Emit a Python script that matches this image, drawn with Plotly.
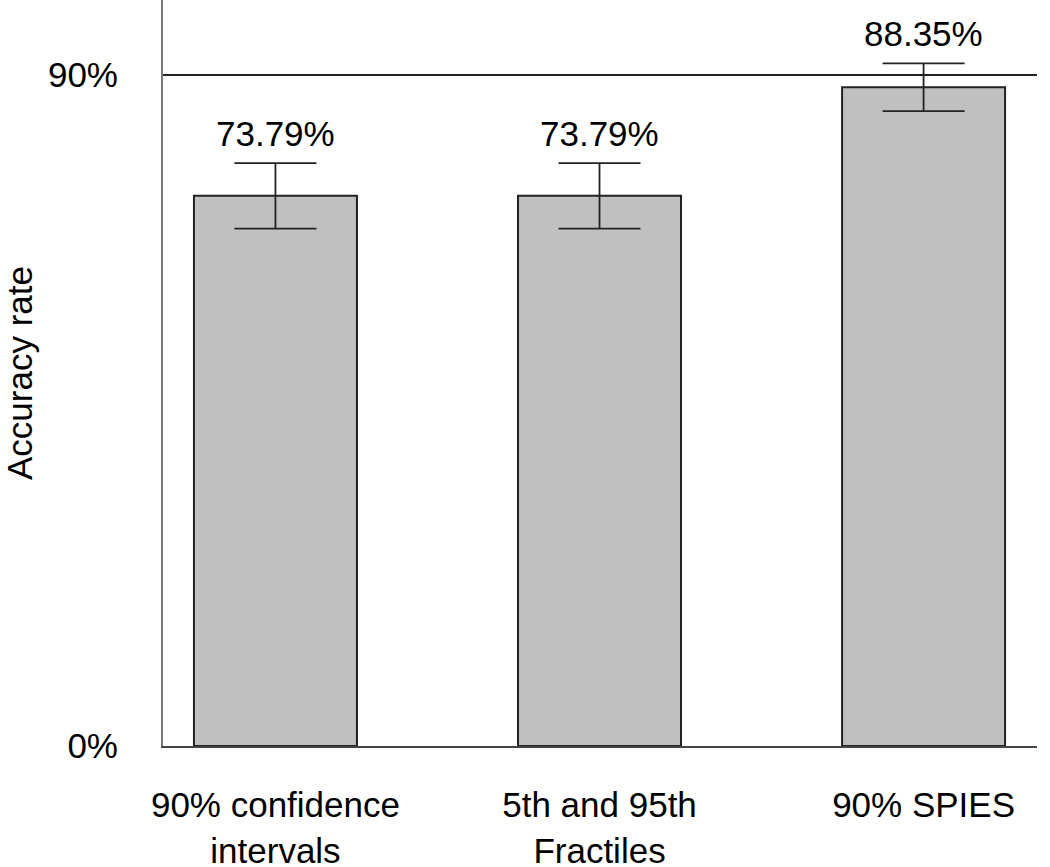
import plotly.graph_objects as go

categories = ["90% confidence<br>intervals", "5th and 95th<br>Fractiles", "90% SPIES"]
accuracy = [0.7379, 0.7379, 0.8835]
err_plus = [0.044, 0.044, 0.032]
err_minus = [0.044, 0.044, 0.032]
value_labels = ["73.79%", "73.79%", "88.35%"]
reference_level = 0.90
y_ticks = [0, 0.9]
y_ticktext = ["0%", "90%"]

FONT = "Liberation Sans, Arial, sans-serif"
x_idx = list(range(len(categories)))

fig = go.Figure()
fig.add_trace(go.Bar(
    x=x_idx, y=accuracy, width=0.503,
    marker=dict(color="#c0c0c0", line=dict(color="#222222", width=2)),
    error_y=dict(type="data", symmetric=False, array=err_plus, arrayminus=err_minus,
                 color="#222222", thickness=1.8, width=41),
    showlegend=False, hoverinfo="skip",
))
upper = [a + e for a, e in zip(accuracy, err_plus)]
for xi, yu, lab in zip(x_idx, upper, value_labels):
    fig.add_annotation(x=xi, y=yu, text=lab, showarrow=False, xanchor="center",
                       yanchor="bottom", yshift=8,
                       font=dict(family=FONT, size=35, color="#000000"))
fig.add_shape(type="line", xref="paper", x0=0, x1=1, yref="y",
              y0=reference_level, y1=reference_level,
              line=dict(color="#222222", width=1.8))

fig.update_layout(
    width=1050, height=867,
    margin=dict(l=163, r=13, t=0, b=121),
    paper_bgcolor="white", plot_bgcolor="white",
    font=dict(family=FONT, size=35, color="#000000"),
    bargap=0.5,
)
fig.update_xaxes(
    range=[-0.347, 2.35], tickmode="array", tickvals=x_idx, ticktext=categories,
    showgrid=False, zeroline=False, showline=True, linecolor="#444444", linewidth=2,
    ticks="", tickfont=dict(family=FONT, size=35), ticklabelstandoff=27,
    automargin=False,
)
fig.update_yaxes(
    range=[0, 1.0006], tickmode="array", tickvals=y_ticks, ticktext=y_ticktext,
    showgrid=False, zeroline=False, showline=True, linecolor="#777777", linewidth=2,
    ticks="", tickfont=dict(family=FONT, size=35), ticklabelstandoff=36,
    title=dict(text="Accuracy rate", font=dict(family=FONT, size=35), standoff=24),
    automargin=False,
)

fig.write_html("out.html", config={"displayModeBar": False},
               post_script="document.body.style.margin='0px';document.body.style.overflow='hidden';")
